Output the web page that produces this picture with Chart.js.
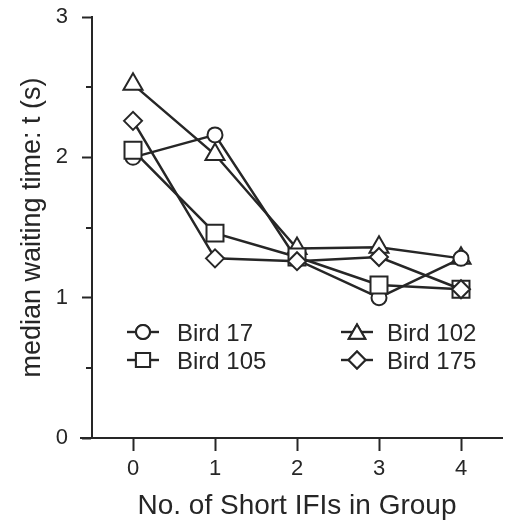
<!DOCTYPE html>
<html>
<head>
<meta charset="utf-8">
<script src="https://cdn.jsdelivr.net/npm/chart.js@4.4.1/dist/chart.umd.min.js"></script>
<style>
  html, body { margin: 0; padding: 0; background: #fff; }
  #wrap { width: 516px; height: 528px; }
</style>
</head>
<body>
<div id="wrap"><canvas id="c" width="516" height="528"></canvas></div>
<script>
// Number of short IFIs in the group (x) and each bird's median waiting time in seconds (y)
const shortIfis = [0, 1, 2, 3, 4];
const bird17  = [2.00, 2.16, 1.27, 1.00, 1.28];
const bird105 = [2.05, 1.46, 1.29, 1.09, 1.06];
const bird102 = [2.52, 2.02, 1.35, 1.36, 1.28];
const bird175 = [2.26, 1.28, 1.26, 1.29, 1.06];
const birdNames = ['Bird 17', 'Bird 105', 'Bird 102', 'Bird 175'];
const yMajorTicks = [0, 1, 2, 3];
const yMinorTicks = [0.5, 1.5, 2.5];

const INK = '#262626';
const FONT = '"Liberation Sans", Arial, Helvetica, sans-serif';

const toPoints = (vals) => vals.map((v, i) => ({ x: shortIfis[i], y: v }));

const seriesStyle = (label, vals, pointStyle, radius, order) => ({
  label,
  data: toPoints(vals),
  order,
  borderColor: INK,
  borderWidth: 2.5,
  pointStyle,
  pointRadius: radius,
  pointHoverRadius: radius,
  pointBackgroundColor: '#fff',
  pointBorderColor: INK,
  pointBorderWidth: 2,
  tension: 0,
  fill: false
});

// Minor y ticks, the left stub of the x axis, and the two-column legend
const extras = {
  id: 'extras',
  afterDraw(chart) {
    const ctx = chart.ctx;
    const y = chart.scales.y;
    const area = chart.chartArea;
    ctx.save();
    ctx.strokeStyle = INK;
    ctx.lineWidth = 2;
    ctx.lineCap = 'butt';
    yMinorTicks.forEach(v => {
      const py = Math.round(y.getPixelForValue(v));
      ctx.beginPath();
      ctx.moveTo(area.left - 6, py);
      ctx.lineTo(area.left, py);
      ctx.stroke();
    });
    const py0 = y.getPixelForValue(0);
    ctx.beginPath();
    ctx.moveTo(area.left - 12, py0);
    ctx.lineTo(area.left, py0);
    ctx.stroke();

    // legend entries: [dataset index, symbol centre x, row centre y]
    const entries = [[0, 143, 332], [1, 143, 360], [2, 357, 332], [3, 357, 360]];
    const legendRadius = { circle: 7, rect: 10, triangle: 9.5, rectRot: 8.5 };
    ctx.font = '24px ' + FONT;
    ctx.textBaseline = 'alphabetic';
    ctx.textAlign = 'left';
    entries.forEach(([idx, cx, cy]) => {
      const ds = chart.data.datasets[idx];
      ctx.strokeStyle = INK;
      ctx.lineWidth = 2.4;
      ctx.beginPath();
      ctx.moveTo(cx - 16, cy);
      ctx.lineTo(cx + 16, cy);
      ctx.stroke();
      ctx.fillStyle = '#fff';
      ctx.lineWidth = 2;
      Chart.helpers.drawPoint(ctx, {
        pointStyle: ds.pointStyle,
        radius: legendRadius[ds.pointStyle],
        rotation: 0,
        borderWidth: 2
      }, cx, cy + (ds.pointStyle === 'triangle' ? 2 : 0));
      ctx.fill();
      ctx.stroke();
      ctx.fillStyle = INK;
      ctx.fillText(ds.label, cx + (idx < 2 ? 34 : 30), cy + 9);
    });
    ctx.restore();
  }
};

new Chart(document.getElementById('c'), {
  type: 'line',
  data: {
    datasets: [
      seriesStyle(birdNames[0], bird17, 'circle', 7.5, 2),
      seriesStyle(birdNames[1], bird105, 'rect', 12, 1),
      seriesStyle(birdNames[2], bird102, 'triangle', 11, 3),
      seriesStyle(birdNames[3], bird175, 'rectRot', 9, 0)
    ]
  },
  options: {
    responsive: false,
    devicePixelRatio: 1,
    animation: false,
    events: [],
    layout: { padding: { top: 17, right: 7, left: 0, bottom: 0 } },
    plugins: { legend: { display: false }, tooltip: { enabled: false } },
    scales: {
      x: {
        type: 'linear',
        min: -0.5,
        max: 4.5,
        afterBuildTicks: (s) => { s.ticks = shortIfis.map(v => ({ value: v })); },
        afterFit: (s) => { s.height = 90; s.paddingLeft = 0; s.paddingRight = 0; },
        grid: { display: true, drawOnChartArea: false, drawTicks: true, tickLength: 13, tickWidth: 2, tickColor: INK },
        border: { display: true, color: INK, width: 2 },
        ticks: { color: INK, font: { family: FONT, size: 22 }, padding: 5, maxRotation: 0 },
        title: { display: true, text: 'No. of Short IFIs in Group', color: INK, font: { family: FONT, size: 28 }, padding: { top: 0, bottom: 5 } }
      },
      y: {
        type: 'linear',
        min: 0,
        max: 3,
        afterBuildTicks: (s) => { s.ticks = yMajorTicks.map(v => ({ value: v })); },
        afterFit: (s) => { s.width = 92; s.paddingTop = 0; s.paddingBottom = 0; },
        grid: { display: true, drawOnChartArea: false, drawTicks: true, tickLength: 10, tickWidth: 2, tickColor: INK },
        border: { display: true, color: INK, width: 2 },
        ticks: { color: INK, font: { family: FONT, size: 22 }, padding: 14 },
        title: { display: true, text: 'median waiting time: t (s)', color: INK, font: { family: FONT, size: 27 }, padding: { top: 16, bottom: 0 } }
      }
    }
  },
  plugins: [extras]
});
</script>
</body>
</html>
